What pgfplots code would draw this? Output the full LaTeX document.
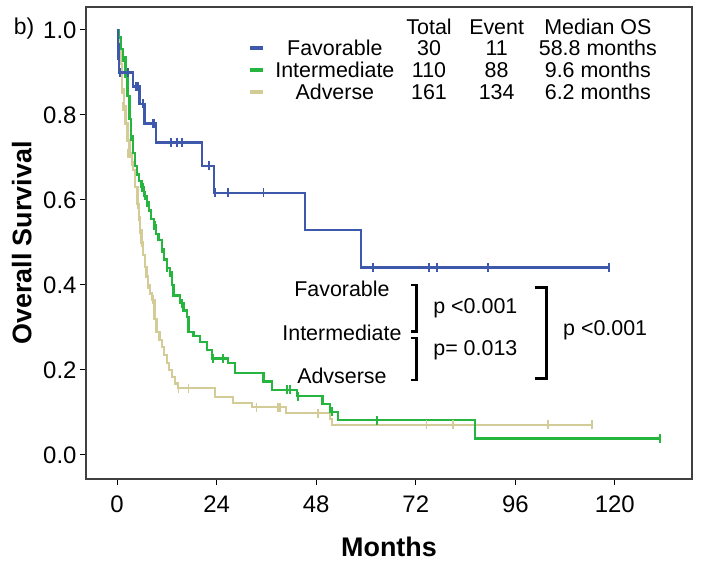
\documentclass[border=0pt]{standalone}
\usepackage{fontspec}
\setmainfont{Liberation Sans}
\usepackage{pgfplots}
\pgfplotsset{compat=1.18}
\usetikzlibrary{calc}
\definecolor{favblue}{RGB}{62,88,172}
\definecolor{intgreen}{RGB}{38,182,64}
\definecolor{advtan}{RGB}{212,204,150}

\begin{document}
\begin{tikzpicture}
\begin{axis}[
  name=ax,
  scale only axis,
  width=606bp, height=472bp,
  xmin=-7.5, xmax=138.6,
  ymin=-0.0565, ymax=1.054,
  xtick={0,24,...,120},
  ytick={0,0.2,0.4,0.6,0.8,1.0},
  yticklabel style={/pgf/number format/.cd, fixed, fixed zerofill, precision=1},
  xticklabel style={yshift=-7bp},
  /pgf/number format/assume math mode=true,
  tick align=outside, xtick pos=bottom, ytick pos=left,
  major tick length=6bp,
  tick style={black, line width=1bp},
  axis line style={black!75, line width=1.2bp},
  ticklabel style={font=\fontsize{24}{28}\selectfont},
  xlabel={Months}, ylabel={Overall Survival},
  label style={font=\bfseries\fontsize{27}{30}\selectfont},
  xlabel style={at={(axis description cs:0.5,-0.144)}, anchor=center},
  ylabel style={at={(axis description cs:-0.106,0.5)}, anchor=center},
  clip=false,
]
% Kaplan-Meier steps
\addplot[const plot, advtan, line width=2.2bp] coordinates {
  (0,1.0) (0.4,0.97) (0.8,0.92) (1.1,0.86) (1.6,0.82) (2.0,0.78) (2.5,0.74)
  (3.0,0.71) (3.5,0.69) (3.9,0.67) (4.3,0.63) (4.9,0.59) (5.2,0.56) (5.5,0.53)
  (5.9,0.50) (6.3,0.47) (6.7,0.443) (7.1,0.42) (7.5,0.40) (8.0,0.38) (8.4,0.365)
  (9.0,0.32) (9.5,0.29) (10.2,0.27) (10.8,0.255) (11.4,0.235) (12.0,0.216)
  (12.6,0.20) (13.2,0.184) (14.0,0.168) (14.6,0.157) (23.6,0.137) (28.0,0.122)
  (32.5,0.112) (40.7,0.098) (51.3,0.084) (51.8,0.071) (114.5,0.071)
};
\addplot[const plot, intgreen, line width=2.2bp] coordinates {
  (0,1.0) (0.5,0.982) (1.0,0.955) (1.5,0.936) (2.0,0.89) (2.5,0.845) (3.0,0.79)
  (3.4,0.75) (3.8,0.71) (4.3,0.68) (4.7,0.66) (5.3,0.645) (5.9,0.63) (6.5,0.61)
  (7.2,0.595) (7.6,0.575) (8.2,0.555) (8.8,0.54) (9.4,0.52) (10.0,0.505)
  (10.8,0.485) (11.4,0.46) (12.0,0.44) (12.8,0.43) (13.2,0.40) (13.6,0.375)
  (15.2,0.357) (16.0,0.34) (16.8,0.325) (17.2,0.29) (18.4,0.28) (20.0,0.265)
  (21.6,0.247) (22.8,0.227) (26.8,0.216) (28.4,0.192) (35.3,0.173) (37.3,0.153)
  (43.3,0.138) (49.5,0.12) (51.3,0.102) (53.3,0.082) (86.3,0.039) (130.8,0.039)
};
\addplot[const plot, favblue, line width=2.2bp] coordinates {
  (0,1.0) (0.2,0.967) (0.35,0.933) (0.5,0.90) (3.9,0.867) (5.4,0.826) (6.6,0.78)
  (9.4,0.735) (20.4,0.68) (23.3,0.617) (45.3,0.529) (58.8,0.441) (118.6,0.441)
};
% censored observations
\addplot[only marks, advtan, mark=|, mark size=4.5bp, mark options={line width=1.8bp}] coordinates {
  (1.1,0.86) (1.4,0.82) (2.7,0.71) (3.1,0.71) (3.5,0.69) (5.1,0.59) (5.3,0.56)
  (5.6,0.53) (5.9,0.50) (7.5,0.40) (8.6,0.365) (14.8,0.157) (17.2,0.157)
  (33.6,0.112) (38.8,0.112) (39.2,0.112) (48.5,0.098) (74.6,0.071) (80.9,0.071)
  (103.8,0.071) (114.5,0.071)
};
\addplot[only marks, intgreen, mark=|, mark size=4.5bp, mark options={line width=1.8bp}] coordinates {
  (1.5,0.936) (3.4,0.75) (5.9,0.63) (6.3,0.63) (6.7,0.61) (7.2,0.595) (8.8,0.54)
  (9.2,0.54) (10.8,0.485) (12.0,0.44) (12.8,0.43) (15.6,0.357) (23.2,0.227)
  (25.6,0.227) (40.9,0.153) (41.7,0.153) (43.7,0.138) (51.8,0.102) (62.6,0.082)
  (130.8,0.039)
};
\addplot[only marks, favblue, mark=|, mark size=4.5bp, mark options={line width=1.8bp}] coordinates {
  (0.7,0.9) (2.7,0.9) (4.5,0.867) (5.1,0.867) (6.2,0.826) (8.6,0.78) (9.0,0.78)
  (12.9,0.735) (14.4,0.735) (15.7,0.735) (22.2,0.68) (23.6,0.617) (26.8,0.617)
  (35.3,0.617) (61.7,0.441) (75.2,0.441) (77.1,0.441) (89.4,0.441) (118.6,0.441)
};

% panel tag
\node[font=\fontsize{23}{26}\selectfont] at (axis description cs:-0.102,0.955) {b)};

% legend table
\begin{scope}[every node/.style={font=\fontsize{21.5}{25}\selectfont, anchor=center, inner sep=0pt}]
\node at (axis cs:75.2,1.007) {Total};
\node at (axis cs:91.5,1.007) {Event};
\node at (axis cs:115.9,1.007) {Median OS};
\node at (axis cs:52.5,0.958) {Favorable};
\node at (axis cs:52.5,0.906) {Intermediate};
\node at (axis cs:52.5,0.854) {Adverse};
\node at (axis cs:75.2,0.958) {30};
\node at (axis cs:75.2,0.906) {110};
\node at (axis cs:75.2,0.854) {161};
\node at (axis cs:91.5,0.958) {11};
\node at (axis cs:91.5,0.906) {88};
\node at (axis cs:91.5,0.854) {134};
\node at (axis cs:115.9,0.958) {58.8 months};
\node at (axis cs:115.9,0.906) {9.6 months};
\node at (axis cs:115.9,0.854) {6.2 months};
\end{scope}
\draw[favblue, line width=4bp] (axis cs:32.0,0.958) -- (axis cs:35.2,0.958);
\draw[intgreen, line width=4bp] (axis cs:32.0,0.906) -- (axis cs:35.2,0.906);
\draw[advtan, line width=4bp] (axis cs:32.0,0.854) -- (axis cs:35.2,0.854);

% log-rank comparisons
\begin{scope}[every node/.style={font=\fontsize{21.5}{25}\selectfont, inner sep=0pt}]
\node[anchor=center] at (axis cs:54.2,0.391) {Favorable};
\node[anchor=center] at (axis cs:54.2,0.288) {Intermediate};
\node[anchor=center] at (axis cs:54.2,0.186) {Advserse};
\node[anchor=west] at (axis cs:76.2,0.346) {p <0.001};
\node[anchor=west] at (axis cs:76.2,0.247) {p= 0.013};
\node[anchor=west] at (axis cs:107.5,0.294) {p <0.001};
\end{scope}
\draw[line width=2.5bp] (axis cs:70.9,0.400) -- (axis cs:72.2,0.400) -- (axis cs:72.2,0.290) -- (axis cs:70.9,0.290);
\draw[line width=2.5bp] (axis cs:70.9,0.275) -- (axis cs:72.2,0.275) -- (axis cs:72.2,0.176) -- (axis cs:70.9,0.176);
\draw[line width=3bp] (axis cs:100.7,0.393) -- (axis cs:103.6,0.393) -- (axis cs:103.6,0.181) -- (axis cs:100.7,0.181);
\end{axis}
\pgfresetboundingbox
\path[use as bounding box] ($(ax.south west)+(-86bp,-84bp)$) rectangle ($(ax.north east)+(12bp,7bp)$);
\end{tikzpicture}
\end{document}
